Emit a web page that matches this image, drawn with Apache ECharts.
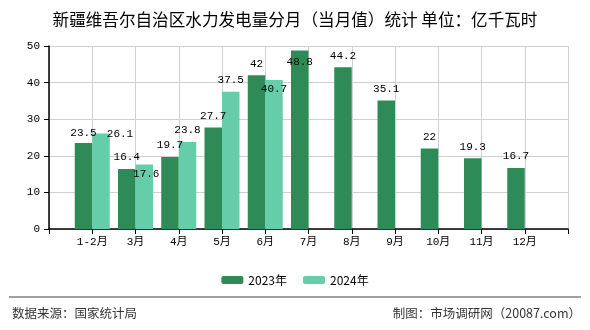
<!DOCTYPE html>
<html>
<head>
<meta charset="utf-8">
<script src="https://cdn.jsdelivr.net/npm/echarts@6/dist/echarts.min.js"></script>
<style>html,body{margin:0;padding:0;background:#fff;}#c{width:590px;height:330px;}</style>
</head>
<body>
<div id="c"></div>
<script>
var categories = ['', '1-2月', '3月', '4月', '5月', '6月', '7月', '8月', '9月', '10月', '11月', '12月', ''];
var values2023 = [null, 23.5, 16.4, 19.7, 27.7, 42, 48.8, 44.2, 35.1, 22, 19.3, 16.7, null];
var values2024 = [null, 26.1, 17.6, 23.8, 37.5, 40.7, null, null, null, null, null, null, null];
var yTicks = [0, 10, 20, 30, 40, 50];
var seriesNames = ['2023年', '2024年'];

// label nudges (per category index) to mimic original label placement
var off2023 = {1: [0, 2], 6: [0, 23]};
var off2024 = {1: [19, 12], 2: [2, 21], 5: [0, 21]};

var monoFont = "'Liberation Mono','Noto Sans CJK SC',monospace";
function mk(vals, offs) {
  return vals.map(function (v, i) {
    if (v === null) return null;
    var o = { value: v };
    if (offs[i]) o.label = { offset: offs[i] };
    return o;
  });
}

var chart = echarts.init(document.getElementById('c'), null, {renderer: 'canvas'});
chart.setOption({
  animation: false,
  backgroundColor: '#fff',
  title: {
    text: '新疆维吾尔自治区水力发电量分月（当月值）统计 单位：亿千瓦时',
    left: 'center', top: 6,
    textStyle: {fontFamily: "'Noto Sans CJK SC'", fontSize: 16.6, fontWeight: 'normal', color: '#000'}
  },
  legend: {
    data: seriesNames,
    left: 'center', top: 269,
    itemWidth: 22, itemHeight: 8, itemGap: 16,
    textStyle: {fontFamily: "'Noto Sans CJK SC'", fontSize: 12, color: '#000'}
  },
  grid: {left: 49, right: 22, top: 46, bottom: 101, containLabel: false},
  xAxis: {
    type: 'category',
    data: categories,
    boundaryGap: false,
    axisLine: {lineStyle: {color: '#000', width: 1.5}},
    axisTick: {show: true, interval: 0, length: 5, lineStyle: {color: '#000'}},
    axisLabel: {interval: 0, margin: 8, color: '#000', fontFamily: monoFont, fontSize: 11},
    splitLine: {show: true, interval: 0, lineStyle: {color: '#d0d0d0', width: 1}}
  },
  yAxis: {
    type: 'value',
    min: yTicks[0], max: yTicks[yTicks.length - 1], interval: 10,
    axisLine: {show: true, lineStyle: {color: '#000', width: 1.5}},
    axisTick: {show: true, length: 5, lineStyle: {color: '#000'}},
    axisLabel: {margin: 9, color: '#000', fontFamily: monoFont, fontSize: 11},
    splitLine: {show: true, lineStyle: {color: '#d0d0d0', width: 1}}
  },
  series: [
    {
      name: seriesNames[0], type: 'bar', barWidth: 17.5, barGap: '0%',
      itemStyle: {color: '#2e8b57'},
      label: {show: true, position: 'top', distance: 6, color: '#000', fontFamily: monoFont, fontSize: 11},
      data: mk(values2023, off2023)
    },
    {
      name: seriesNames[1], type: 'bar', barWidth: 17.5, barGap: '0%',
      itemStyle: {color: '#66cdaa'},
      label: {show: true, position: 'top', distance: 6, color: '#000', fontFamily: monoFont, fontSize: 11},
      data: mk(values2024, off2024)
    }
  ],
  graphic: [
    {type: 'line', shape: {x1: 9, y1: 297, x2: 581, y2: 297}, style: {stroke: '#808080', lineWidth: 1.5}},
    {type: 'text', left: 12, top: 307, style: {text: '数据来源：国家统计局', fontFamily: "'Noto Sans CJK SC'", fontSize: 12.5, fill: '#333'}},
    {type: 'text', right: 9, top: 307, style: {text: '制图：市场调研网（20087.com）', fontFamily: "'Noto Sans CJK SC'", fontSize: 12.5, fill: '#333'}}
  ]
});
</script>
</body>
</html>
